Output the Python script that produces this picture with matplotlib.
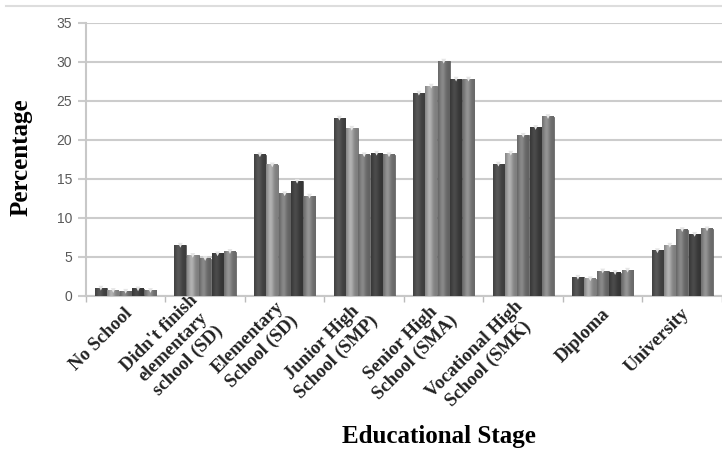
import matplotlib
matplotlib.use("Agg")
import matplotlib.pyplot as plt
import matplotlib.transforms as mtransforms
from matplotlib.lines import Line2D
from matplotlib.colors import to_rgb
import numpy as np

categories = ["No School", "Didn't finish\nelementary\nschool (SD)", "Elementary\nSchool (SD)",
              "Junior High\nSchool (SMP)", "Senior High\nSchool (SMA)",
              "Vocational High\nSchool (SMK)", "Diploma", "University"]
series_1 = [1.0, 6.5, 18.1, 22.8, 26.0, 16.9, 2.4, 5.8]
series_2 = [0.7, 5.2, 16.8, 21.5, 26.9, 18.3, 2.2, 6.5]
series_3 = [0.6, 4.8, 13.1, 18.1, 30.1, 20.6, 3.2, 8.5]
series_4 = [0.9, 5.4, 14.7, 18.3, 27.8, 21.6, 3.0, 7.9]
series_5 = [0.7, 5.7, 12.8, 18.1, 27.8, 23.0, 3.3, 8.6]
yticks = [0, 5, 10, 15, 20, 25, 30, 35]

series = [series_1, series_2, series_3, series_4, series_5]
colors = ["#4f4f4f", "#a2a2a2", "#7d7d7d", "#444444", "#878787"]

fig = plt.figure(figsize=(7.22, 4.55), dpi=100)
ax = fig.add_axes([0.119, 0.3495, 0.881, 0.600])

n = len(series)
group_w = 0.78
bw = group_w / n
x = np.arange(len(categories)) + 0.5
t = np.linspace(0, 1, 48)
shade = 0.78 + 0.32 * np.exp(-((t - 0.38) / 0.28) ** 2)
for i, (vals, c) in enumerate(zip(series, colors)):
    pos = x - group_w / 2 + bw * (i + 0.5)
    w = bw * 0.95
    bars = ax.bar(pos, vals, width=w, color=c, edgecolor="#3a3a3a", linewidth=0.4, zorder=3)
    base = np.array(to_rgb(c))
    grad = np.clip(base[None, :] * shade[:, None], 0, 1)[None, :, :]
    for b in bars:
        ax.imshow(grad, extent=(b.get_x(), b.get_x() + b.get_width(), 0, b.get_height()),
                  aspect="auto", interpolation="bilinear", zorder=3.5)
    ax.scatter(pos, vals, marker="v", s=12, color="#e6e6e6", edgecolors="none", zorder=4)

ax.set_xlim(0, len(categories))
ax.set_ylim(0, 35)
ax.set_yticks(yticks)
ax.set_yticklabels([str(v) for v in yticks], fontfamily="Liberation Sans", fontsize=10, color="#595959")
ax.yaxis.grid(True, color="#cccccc", linewidth=1.5, zorder=0)
ax.set_axisbelow(True)

ax.set_xticks(np.arange(0, len(categories) + 1), minor=False)
ax.set_xticklabels([])
ax.set_xticks(x, minor=True)
labels = ax.set_xticklabels(categories, minor=True, rotation=45, ha="right", va="center",
                            rotation_mode="anchor", multialignment="center", linespacing=1.22,
                            fontfamily="Liberation Serif", fontweight="bold", fontsize=13.5,
                            color="#222222")
ax.tick_params(axis="x", which="minor", length=0, pad=11)
ax.tick_params(axis="x", which="major", length=4, color="#bbbbbb", width=1)
ax.tick_params(axis="y", length=6, color="#cccccc", width=1.5, pad=4)
shift = mtransforms.ScaledTranslation(4 / 100, 0, fig.dpi_scale_trans)
for lab in ax.get_xticklabels(minor=True):
    lab.set_transform(lab.get_transform() + shift)

for s in ["top", "right"]:
    ax.spines[s].set_visible(False)
ax.spines["left"].set_color("#c8c8c8")
ax.spines["left"].set_linewidth(1.5)
ax.spines["bottom"].set_color("#c8c8c8")
ax.spines["bottom"].set_linewidth(1.5)

ax.set_ylabel("Percentage", fontfamily="Liberation Serif", fontweight="bold", fontsize=18)
ax.yaxis.set_label_coords(-0.084, 0.51)
fig.text(0.608, 0.04, "Educational Stage", fontfamily="Liberation Serif", fontweight="bold",
         fontsize=18, ha="center", va="center")

fig.add_artist(Line2D([0.008, 1.0], [0.987, 0.987], color="#dddddd", linewidth=1.5))

fig.savefig("out.png", dpi=100)
